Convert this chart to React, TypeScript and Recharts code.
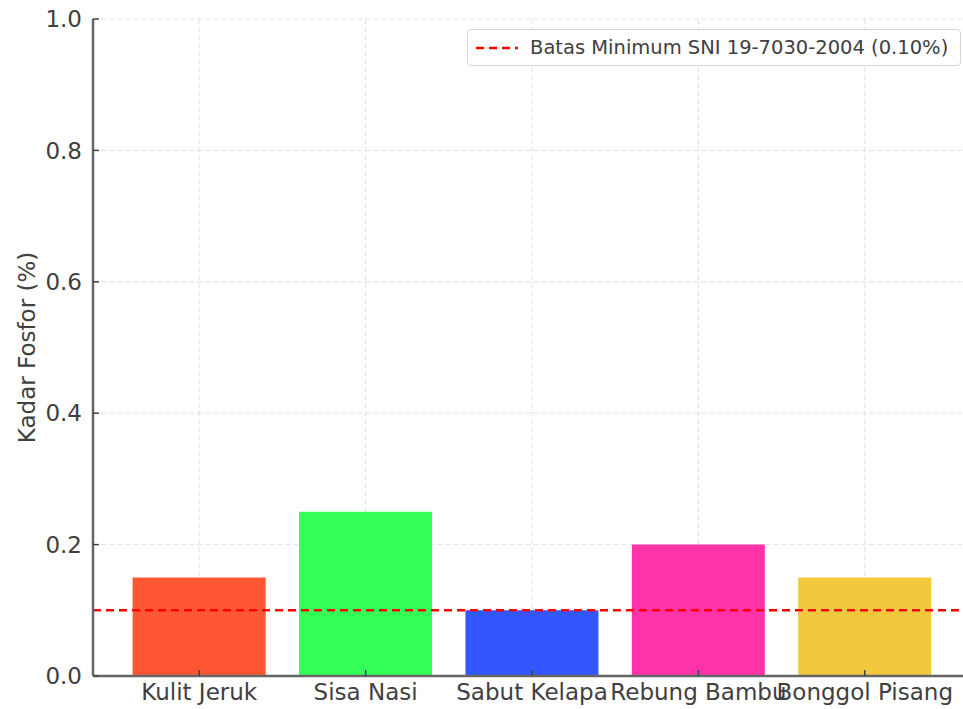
import { BarChart, Bar, Cell, XAxis, YAxis, CartesianGrid, ReferenceLine } from 'recharts';

const CATEGORIES = ['Kulit Jeruk', 'Sisa Nasi', 'Sabut Kelapa', 'Rebung Bambu', 'Bonggol Pisang'];
const KADAR_FOSFOR = [0.15, 0.25, 0.1, 0.2, 0.15];
const BAR_COLORS = ['#FF5733', '#33FF57', '#3357FF', '#FF33A8', '#F2C93C'];
const Y_TICKS = [0, 0.2, 0.4, 0.6, 0.8, 1.0];
const SNI_MIN = 0.1;
const LEGEND_LABEL = 'Batas Minimum SNI 19-7030-2004 (0.10%)';

const FONT = '"DejaVu Sans", Verdana, sans-serif';
const TEXT = '#404040';
const AXIS = '#666666';

export default function App() {
  const data = CATEGORIES.map((name, i) => ({ name, value: KADAR_FOSFOR[i] }));

  return (
    <div style={{ position: 'absolute', left: 0, top: 0, width: 963, height: 709, overflow: 'hidden', background: '#fff', fontFamily: FONT }}>
      <BarChart
        width={985}
        height={709}
        data={data}
        margin={{ top: 19, right: 14, bottom: 0, left: 0 }}
        barCategoryGap="10%"
      >
        <CartesianGrid stroke="#e2e2e2" strokeDasharray="5 3" strokeWidth={1} />
        <XAxis
          dataKey="name"
          height={33}
          padding={{ left: 23, right: 23 }}
          interval={0}
          stroke={AXIS}
          axisLine={{ stroke: AXIS, strokeWidth: 2.5 }}
          tickLine={{ stroke: '#444', strokeWidth: 1.5 }}
          tickSize={-6}
          tickMargin={14}
          tick={{ fill: TEXT, fontSize: 23, fontFamily: FONT }}
        />
        <YAxis
          width={93}
          domain={[0, 1]}
          ticks={Y_TICKS}
          tickFormatter={(v: number) => v.toFixed(1)}
          axisLine={{ stroke: AXIS, strokeWidth: 2.5 }}
          tickLine={{ stroke: '#444', strokeWidth: 1.5 }}
          tickSize={-6}
          tickMargin={17}
          tick={{ fill: TEXT, fontSize: 23, fontFamily: FONT }}
          label={{
            content: (props: any) => {
              const vb = props.viewBox || { x: 0, y: 0, height: 0 };
              const cx = vb.x + 27;
              const cy = vb.y + vb.height / 2;
              return (
                <text
                  x={cx}
                  y={cy}
                  transform={`rotate(-90 ${cx} ${cy})`}
                  textAnchor="middle"
                  dominantBaseline="central"
                  fill={TEXT}
                  fontSize={23}
                  fontFamily={FONT}
                >
                  Kadar Fosfor (%)
                </text>
              );
            },
          }}
        />
        <Bar dataKey="value" isAnimationActive={false}>
          {data.map((d, i) => (
            <Cell key={d.name} fill={BAR_COLORS[i]} />
          ))}
        </Bar>
        <ReferenceLine y={SNI_MIN} stroke="#ff0000" strokeWidth={2.5} strokeDasharray="8 5" />
      </BarChart>

      <div
        style={{
          position: 'absolute',
          left: 467,
          top: 29,
          width: 494,
          height: 37,
          boxSizing: 'border-box',
          border: '1px solid #d6d6d6',
          borderRadius: 4,
          background: 'rgba(255,255,255,0.85)',
          display: 'flex',
          alignItems: 'center',
          fontSize: 19.5,
          color: TEXT,
          whiteSpace: 'nowrap',
        }}
      >
        <svg width={62} height={20} style={{ flex: 'none' }}>
          <line x1={8} x2={50} y1={10} y2={10} stroke="#ff0000" strokeWidth={2.5} strokeDasharray="8 5" />
        </svg>
        <span>{LEGEND_LABEL}</span>
      </div>
    </div>
  );
}
